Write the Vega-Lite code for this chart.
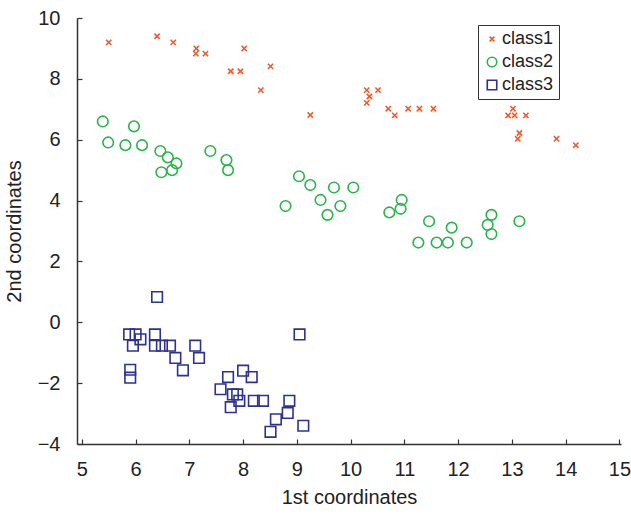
{
  "$schema": "https://vega.github.io/schema/vega-lite/v6.json",
  "width": 544,
  "height": 426,
  "autosize": {"type": "none"},
  "padding": {"left": 77, "top": 18, "right": 10, "bottom": 70},
  "background": "white",
  "config": {
    "view": {"stroke": null},
    "font": "Liberation Sans",
    "axis": {
      "domainColor": "#333333",
      "domainWidth": 1.5,
      "tickColor": "#333333",
      "tickWidth": 1.2,
      "tickSize": -5,
      "grid": false,
      "labelColor": "#222222",
      "labelFontSize": 20,
      "labelFont": "Liberation Sans",
      "titleFont": "Liberation Sans",
      "titleFontSize": 20,
      "titleFontWeight": "normal",
      "titleColor": "#222222"
    }
  },
  "data": {
    "values": [
      {"x": 5.5, "y": 9.2, "cls": "class1"},
      {"x": 6.4, "y": 9.4, "cls": "class1"},
      {"x": 6.7, "y": 9.2, "cls": "class1"},
      {"x": 7.13, "y": 9.0, "cls": "class1"},
      {"x": 7.12, "y": 8.83, "cls": "class1"},
      {"x": 7.3, "y": 8.83, "cls": "class1"},
      {"x": 8.02, "y": 9.0, "cls": "class1"},
      {"x": 7.77, "y": 8.25, "cls": "class1"},
      {"x": 7.95, "y": 8.25, "cls": "class1"},
      {"x": 8.51, "y": 8.41, "cls": "class1"},
      {"x": 8.33, "y": 7.63, "cls": "class1"},
      {"x": 9.25, "y": 6.81, "cls": "class1"},
      {"x": 10.3, "y": 7.63, "cls": "class1"},
      {"x": 10.51, "y": 7.63, "cls": "class1"},
      {"x": 10.35, "y": 7.42, "cls": "class1"},
      {"x": 10.3, "y": 7.21, "cls": "class1"},
      {"x": 10.7, "y": 7.02, "cls": "class1"},
      {"x": 10.82, "y": 6.8, "cls": "class1"},
      {"x": 11.07, "y": 7.02, "cls": "class1"},
      {"x": 11.28, "y": 7.02, "cls": "class1"},
      {"x": 11.54, "y": 7.02, "cls": "class1"},
      {"x": 13.02, "y": 7.02, "cls": "class1"},
      {"x": 12.93, "y": 6.8, "cls": "class1"},
      {"x": 13.05, "y": 6.8, "cls": "class1"},
      {"x": 13.26, "y": 6.8, "cls": "class1"},
      {"x": 13.14, "y": 6.22, "cls": "class1"},
      {"x": 13.11, "y": 6.03, "cls": "class1"},
      {"x": 13.83, "y": 6.03, "cls": "class1"},
      {"x": 14.19, "y": 5.82, "cls": "class1"},

      {"x": 5.39, "y": 6.6, "cls": "class2"},
      {"x": 5.97, "y": 6.44, "cls": "class2"},
      {"x": 5.49, "y": 5.91, "cls": "class2"},
      {"x": 5.81, "y": 5.82, "cls": "class2"},
      {"x": 6.12, "y": 5.82, "cls": "class2"},
      {"x": 6.46, "y": 5.63, "cls": "class2"},
      {"x": 6.6, "y": 5.42, "cls": "class2"},
      {"x": 6.76, "y": 5.22, "cls": "class2"},
      {"x": 6.68, "y": 5.0, "cls": "class2"},
      {"x": 6.48, "y": 4.93, "cls": "class2"},
      {"x": 7.39, "y": 5.63, "cls": "class2"},
      {"x": 7.69, "y": 5.33, "cls": "class2"},
      {"x": 7.72, "y": 5.0, "cls": "class2"},
      {"x": 9.04, "y": 4.8, "cls": "class2"},
      {"x": 9.25, "y": 4.51, "cls": "class2"},
      {"x": 9.69, "y": 4.43, "cls": "class2"},
      {"x": 10.05, "y": 4.43, "cls": "class2"},
      {"x": 9.44, "y": 4.02, "cls": "class2"},
      {"x": 9.81, "y": 3.82, "cls": "class2"},
      {"x": 8.79, "y": 3.82, "cls": "class2"},
      {"x": 9.57, "y": 3.53, "cls": "class2"},
      {"x": 10.95, "y": 4.02, "cls": "class2"},
      {"x": 10.93, "y": 3.73, "cls": "class2"},
      {"x": 10.72, "y": 3.61, "cls": "class2"},
      {"x": 11.46, "y": 3.32, "cls": "class2"},
      {"x": 11.88, "y": 3.11, "cls": "class2"},
      {"x": 11.26, "y": 2.62, "cls": "class2"},
      {"x": 11.6, "y": 2.62, "cls": "class2"},
      {"x": 11.81, "y": 2.62, "cls": "class2"},
      {"x": 12.16, "y": 2.62, "cls": "class2"},
      {"x": 12.62, "y": 3.53, "cls": "class2"},
      {"x": 12.55, "y": 3.2, "cls": "class2"},
      {"x": 12.62, "y": 2.9, "cls": "class2"},
      {"x": 13.14, "y": 3.32, "cls": "class2"},

      {"x": 6.4, "y": 0.83, "cls": "class3"},
      {"x": 5.88, "y": -0.4, "cls": "class3"},
      {"x": 6.0, "y": -0.4, "cls": "class3"},
      {"x": 6.09, "y": -0.56, "cls": "class3"},
      {"x": 5.95, "y": -0.77, "cls": "class3"},
      {"x": 6.36, "y": -0.4, "cls": "class3"},
      {"x": 6.36, "y": -0.77, "cls": "class3"},
      {"x": 6.49, "y": -0.77, "cls": "class3"},
      {"x": 6.64, "y": -0.77, "cls": "class3"},
      {"x": 6.74, "y": -1.17, "cls": "class3"},
      {"x": 7.11, "y": -0.77, "cls": "class3"},
      {"x": 7.18, "y": -1.17, "cls": "class3"},
      {"x": 6.88, "y": -1.58, "cls": "class3"},
      {"x": 5.9, "y": -1.56, "cls": "class3"},
      {"x": 5.9, "y": -1.82, "cls": "class3"},
      {"x": 7.72, "y": -1.8, "cls": "class3"},
      {"x": 8.0, "y": -1.59, "cls": "class3"},
      {"x": 8.16, "y": -1.8, "cls": "class3"},
      {"x": 7.58, "y": -2.2, "cls": "class3"},
      {"x": 7.81, "y": -2.37, "cls": "class3"},
      {"x": 7.89, "y": -2.37, "cls": "class3"},
      {"x": 7.93, "y": -2.58, "cls": "class3"},
      {"x": 7.77, "y": -2.79, "cls": "class3"},
      {"x": 8.2, "y": -2.58, "cls": "class3"},
      {"x": 8.37, "y": -2.58, "cls": "class3"},
      {"x": 8.86, "y": -2.58, "cls": "class3"},
      {"x": 8.83, "y": -2.98, "cls": "class3"},
      {"x": 8.61, "y": -3.19, "cls": "class3"},
      {"x": 8.51, "y": -3.6, "cls": "class3"},
      {"x": 9.12, "y": -3.4, "cls": "class3"},
      {"x": 9.05, "y": -0.4, "cls": "class3"}
    ]
  },
  "mark": {"type": "point", "filled": false, "strokeWidth": 1.6, "opacity": 1, "size": 112},
  "encoding": {
    "x": {
      "field": "x",
      "type": "quantitative",
      "title": "1st coordinates",
      "scale": {"domain": [4.91, 15.03], "nice": false, "zero": false},
      "axis": {"values": [5, 6, 7, 8, 9, 10, 11, 12, 13, 14, 15], "labelPadding": 20, "titlePadding": 8}
    },
    "y": {
      "field": "y",
      "type": "quantitative",
      "title": "2nd coordinates",
      "scale": {"domain": [-4, 10], "nice": false, "zero": false},
      "axis": {"values": [-4, -2, 0, 2, 4, 6, 8, 10], "labelPadding": 22, "titlePadding": 13}
    },
    "color": {
      "field": "cls",
      "type": "nominal",
      "scale": {"domain": ["class1", "class2", "class3"], "range": ["#ef5a2b", "#2cb34d", "#2e3192"]},
      "legend": {
        "title": null,
        "orient": "none",
        "legendX": 401,
        "legendY": 7,
        "padding": 5,
        "strokeColor": "#333333",
        "fillColor": "white",
        "labelFontSize": 18,
        "labelFont": "Liberation Sans",
        "labelColor": "#222222",
        "symbolSize": 90,
        "symbolStrokeWidth": 1.6,
        "rowPadding": 5,
        "labelOffset": 1
      }
    },
    "shape": {
      "field": "cls",
      "type": "nominal",
      "scale": {"domain": ["class1", "class2", "class3"], "range": ["M-0.5,-0.5L0.5,0.5M-0.5,0.5L0.5,-0.5", "circle", "square"]}
    }
  }
}
